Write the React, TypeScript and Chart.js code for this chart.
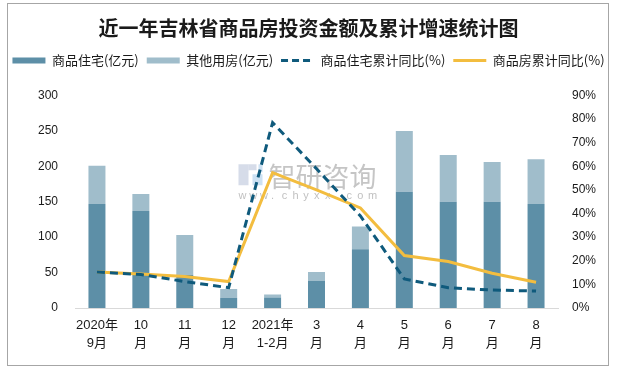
import React, { useEffect, useRef } from "react";
import { Chart, registerables } from "chart.js";

Chart.register(...registerables);

const titleText = "近一年吉林省商品房投资金额及累计增速统计图";
const categories: string[][] = [
  ["2020年", "9月"],
  ["10", "月"],
  ["11", "月"],
  ["12", "月"],
  ["2021年", "1-2月"],
  ["3", "月"],
  ["4", "月"],
  ["5", "月"],
  ["6", "月"],
  ["7", "月"],
  ["8", "月"],
];
const seriesNames = ["商品住宅(亿元)", "其他用房(亿元)", "商品住宅累计同比(%)", "商品房累计同比(%)"];
const residentialInvestment = [147, 137, 47, 14, 15, 38, 83, 164, 150, 150, 147];
const otherInvestment = [54, 24, 56, 13, 4, 13, 32, 86, 66, 56, 63];
const residentialYoY = [15.2, 14.2, 11.2, 8.6, 78.5, 59, 39, 12.3, 8.6, 7.6, 7.2];
const commercialYoY = [15.2, 14.4, 13.3, 11.2, 57.3, 50, 42.4, 22.2, 19.7, 14.7, 10.9];
const leftAxisMax = 300;
const leftAxisStep = 50;
const rightAxisMax = 90;
const rightAxisStep = 10;

const COLOR_RES = "#5d8fa7";
const COLOR_OTHER = "#a0bdcb";
const COLOR_RES_YOY = "#0f5a7c";
const COLOR_ALL_YOY = "#f3bd3f";
const TEXT = "#1a1a1a";
const CJK = '"Noto Sans CJK SC", "Noto Sans", sans-serif';
const NUM = '"Liberation Sans", "Noto Sans CJK SC", sans-serif';

const watermarkPlugin = {
  id: "watermark",
  beforeDatasetsDraw(chart: any) {
    const { ctx, chartArea } = chart;
    const cx = (chartArea.left + chartArea.right) / 2;
    const cy = chartArea.top + (chartArea.bottom - chartArea.top) * 0.38;
    ctx.save();
    ctx.fillStyle = "rgba(180,192,215,0.55)";
    ctx.fillRect(cx - 78, cy - 12, 10, 21);
    ctx.fillRect(cx - 68, cy - 12, 8, 6);
    ctx.fillStyle = "rgba(170,205,235,0.6)";
    ctx.fillRect(cx - 64, cy - 2, 10, 11);
    ctx.fillRect(cx - 58, cy - 12, 4, 8);
    ctx.fillStyle = "rgba(150,150,150,0.55)";
    ctx.font = `27px ${CJK}`;
    ctx.textBaseline = "middle";
    ctx.textAlign = "left";
    ctx.fillText("智研咨询", cx - 48, cy);
    ctx.font = `11px ${NUM}`;
    ctx.fillStyle = "rgba(150,150,150,0.6)";
    const url = "www.chyxx.com";
    for (let i = 0; i < url.length; i++) {
      ctx.fillText(url[i], cx - 78 + i * 10.8, cy + 20);
    }
    ctx.restore();
  },
};

export default function App() {
  const ref = useRef<HTMLCanvasElement | null>(null);

  useEffect(() => {
    document.body.style.margin = "0";
    if (!ref.current) return;
    const chart = new Chart(ref.current, {
      type: "bar",
      data: {
        labels: categories as any,
        datasets: [
          {
            type: "bar",
            label: seriesNames[0],
            data: residentialInvestment,
            backgroundColor: COLOR_RES,
            borderWidth: 0,
            yAxisID: "y",
            xAxisID: "x",
            stack: "s",
            categoryPercentage: 1,
            barPercentage: 0.387,
            order: 3,
          } as any,
          {
            type: "bar",
            label: seriesNames[1],
            data: otherInvestment,
            backgroundColor: COLOR_OTHER,
            borderWidth: 0,
            yAxisID: "y",
            xAxisID: "x",
            stack: "s",
            categoryPercentage: 1,
            barPercentage: 0.387,
            order: 4,
          } as any,
          {
            type: "line",
            label: seriesNames[2],
            data: residentialYoY,
            borderColor: COLOR_RES_YOY,
            backgroundColor: COLOR_RES_YOY,
            borderWidth: 3,
            borderDash: [8, 5],
            pointRadius: 0,
            tension: 0,
            fill: false,
            yAxisID: "y1",
            xAxisID: "x",
            order: 1,
          } as any,
          {
            type: "line",
            label: seriesNames[3],
            data: commercialYoY,
            borderColor: COLOR_ALL_YOY,
            backgroundColor: COLOR_ALL_YOY,
            borderWidth: 3,
            pointRadius: 0,
            tension: 0,
            fill: false,
            yAxisID: "y1",
            xAxisID: "x",
            order: 2,
          } as any,
        ],
      },
      options: {
        responsive: false,
        maintainAspectRatio: false,
        animation: false,
        layout: { padding: { top: 3, left: 0, right: 0, bottom: 4 } },
        plugins: {
          tooltip: { enabled: false },
          title: {
            display: true,
            text: titleText,
            color: TEXT,
            font: { family: CJK, size: 20, weight: "bold" },
            padding: { top: 13, bottom: 6 },
          },
          legend: {
            display: true,
            position: "top",
            align: "center",
            labels: {
              usePointStyle: true,
              pointStyleWidth: 33,
              boxHeight: 6,
              padding: 8,
              color: TEXT,
              font: { family: CJK, size: 13 },
              generateLabels: (chart: any) =>
                chart.data.datasets.map((ds: any, i: number) => {
                  const isLine = ds.type === "line";
                  return {
                    text: ds.label,
                    fillStyle: isLine ? "rgba(0,0,0,0)" : ds.backgroundColor,
                    strokeStyle: isLine ? ds.borderColor : ds.backgroundColor,
                    lineWidth: isLine ? 3 : 0,
                    lineDash: isLine && ds.borderDash ? [7, 4] : [],
                    pointStyle: isLine ? "line" : "rect",
                    hidden: false,
                    datasetIndex: i,
                    fontColor: TEXT,
                  };
                }),
            },
          },
        },
        scales: {
          x: {
            type: "category",
            position: "bottom",
            stacked: true,
            grid: { display: false, drawTicks: false },
            border: { display: true, color: "#d9d9d9", width: 1 },
            ticks: {
              color: TEXT,
              font: { family: NUM, size: 13, lineHeight: 1.35 },
              padding: 9,
              maxRotation: 0,
              autoSkip: false,
            },
            afterFit: (s: any) => {
              s.height = 57;
            },
          },
          xTop: {
            type: "category",
            position: "top",
            display: true,
            grid: { display: false, drawTicks: false },
            border: { display: false },
            ticks: { display: false },
            afterFit: (s: any) => {
              s.height = 18.5;
            },
          },
          y: {
            position: "left",
            stacked: true,
            min: 0,
            max: leftAxisMax,
            grid: { display: false, drawTicks: false },
            border: { display: false },
            ticks: {
              stepSize: leftAxisStep,
              color: TEXT,
              font: { family: NUM, size: 12 },
              padding: 17,
            },
            afterFit: (s: any) => {
              s.width = 75;
            },
          },
          y1: {
            position: "right",
            stacked: false,
            min: 0,
            max: rightAxisMax,
            grid: { display: false, drawTicks: false },
            border: { display: false },
            ticks: {
              stepSize: rightAxisStep,
              color: TEXT,
              font: { family: NUM, size: 12 },
              padding: 14,
              callback: (v: any) => `${v}%`,
            },
            afterFit: (s: any) => {
              s.width = 59;
            },
          },
        } as any,
      },
      plugins: [watermarkPlugin],
    });
    return () => chart.destroy();
  }, []);

  return (
    <div style={{ position: "fixed", left: 0, top: 0, width: 617, height: 369, background: "#fff" }}>
      <canvas ref={ref} width={617} height={369} style={{ position: "absolute", left: 0, top: 0, width: 617, height: 369 }} />
      <div
        style={{
          position: "absolute",
          left: 7,
          top: 3,
          width: 602,
          height: 363,
          boxSizing: "border-box",
          border: "1px solid #a6a6a6",
          pointerEvents: "none",
        }}
      />
    </div>
  );
}
